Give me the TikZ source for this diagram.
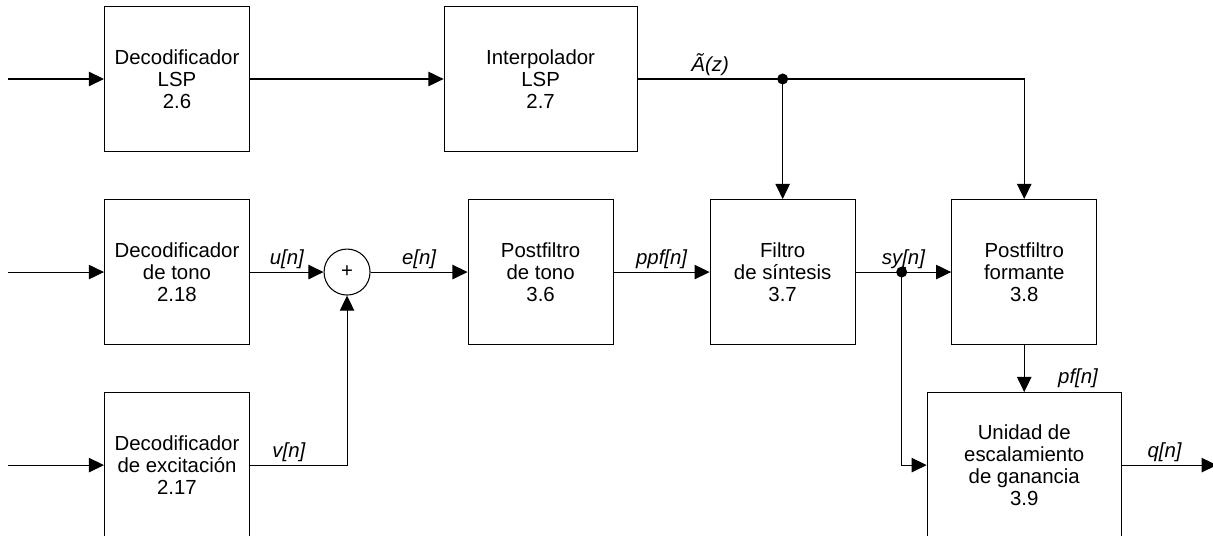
\documentclass[tikz,border=0pt]{standalone}
\usepackage{fontspec}
\setmainfont{Liberation Sans}
\usetikzlibrary{arrows.meta,positioning}

\begin{document}
\begin{tikzpicture}[ampersand replacement=\&,
  font=\fontsize{11.6}{12.6}\selectfont,
  bloque/.style={draw, line width=0.6pt, align=center, inner sep=0pt,
    minimum width=2.9cm, minimum height=2.9cm},
  flecha/.style={-{Triangle[length=8.6pt,width=8.2pt]}, line width=0.6pt},
  senal/.style={above, inner sep=1.5pt, font=\fontsize{11.6}{12.6}\selectfont\itshape}]
\useasboundingbox (0,0) rectangle (24.26,-10.72);
\clip (0,0) rectangle (24.26,-10.72);
\matrix (m) [matrix anchor=dLSP.center, row sep=0.94cm] at (3.54,-1.58)
{
  \coordinate (in0); \&[1.91cm]
  \node[bloque](dLSP) {Decodificador\\LSP\\2.6}; \&[1.47cm]
  \&[1.46cm]
  \node[bloque, minimum width=3.86cm](interp) {Interpolador\\LSP\\2.7}; \&[1.44cm]
  \coordinate (bif); \&[0.92cm]
  \&[0.5cm]
  \&[1.9cm]
  \\
  \coordinate (in1); \&
  \node[bloque](dTono) {Decodificador\\de tono\\2.18}; \&
  \node[draw, circle, line width=0.6pt, minimum size=0.92cm, inner sep=0pt](suma) {+}; \&
  \node[bloque](pTono) {Postfiltro\\de tono\\3.6}; \&
  \node[bloque](filtro) {Filtro\\de síntesis\\3.7}; \&
  \coordinate (sy); \&
  \node[bloque](pForm) {Postfiltro\\formante\\3.8}; \&
  \\
  \coordinate (in2); \&
  \node[bloque](dExc) {Decodificador\\de excitación\\2.17}; \&
  \coordinate (vq); \&
  \&
  \&
  \&
  \node[bloque, minimum width=3.88cm](unidad) {Unidad de\\escalamiento\\de ganancia\\3.9}; \&
  \coordinate (out); \\
};

\draw [flecha] (in0) -- (dLSP) ;
\draw [flecha] (dLSP) -- (interp) ;
\draw [flecha] (interp) -- node[senal]{Ã(z)} (bif) -| (pForm) ;
\draw [flecha] (bif) -- (filtro) ;
\fill (bif) circle (0.11cm) ;

\draw [flecha] (in1) -- (dTono) ;
\draw [flecha] (dTono) -- node[senal]{u[n]} (suma) ;
\draw [flecha] (suma) -- node[senal]{e[n]} (pTono) ;
\draw [flecha] (pTono) -- node[senal]{ppf[n]} (filtro) ;
\draw [flecha] (filtro) -- node[senal]{sy[n]} (pForm) ;
\draw [flecha] (sy) |- (unidad) ;
\fill (sy) circle (0.11cm) ;

\draw [flecha] (in2) -- (dExc) ;
\draw [flecha] (dExc) -- node[senal, pos=0.4]{v[n]} (vq) -- (suma) ;
\draw [flecha] (pForm) -- (unidad) ;
\node [senal, above right=1pt and 0.62cm of unidad.north] (pf) {pf[n]} ;
\draw [flecha] (unidad) -- node[senal, pos=0.45]{q[n]} (out) ;
\end{tikzpicture}
\end{document}
